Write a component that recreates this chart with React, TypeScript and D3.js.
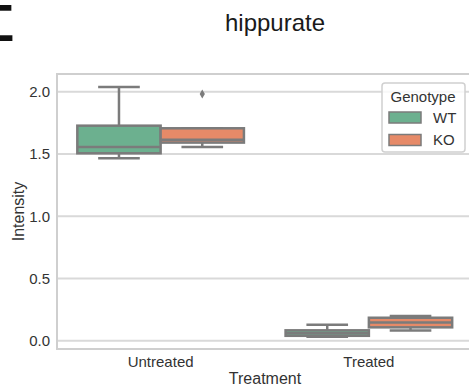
import React from 'react';
import * as d3 from 'd3';

const treatments = ['Untreated', 'Treated'];
const genotypes = ['WT', 'KO'];
// per treatment: [lower whisker, Q1, median, Q3, upper whisker]
const wtBoxes = [
  [1.466, 1.506, 1.557, 1.728, 2.039],
  [0.032, 0.04, 0.06, 0.084, 0.128],
];
const koBoxes = [
  [1.557, 1.592, 1.615, 1.707, 1.707],
  [0.082, 0.108, 0.147, 0.185, 0.2],
];
const wtOutliers: number[][] = [[], []];
const koOutliers: number[][] = [[1.982], []];
const yTicks = [0, 0.5, 1.0, 1.5, 2.0];
const palette = ['#6cb08f', '#e68a68'];

const W = 469;
const H = 390;
const font = 'Liberation Sans, Arial, sans-serif';
const lineGray = '#7b7b7b';

export default function App() {
  const x = d3.scaleBand().domain(treatments).range([56.5, 473]);
  const groupW = x.bandwidth() * 0.8;
  const hue = d3.scaleBand().domain(genotypes).range([0, groupW]);
  const y = d3.scaleLinear().domain([-0.066, 2.143]).range([349, 74]);
  const fmt = d3.format('.1f');
  const color = d3.scaleOrdinal<string, string>().domain(genotypes).range(palette);

  const left = 57;
  const top = y.range()[1];
  const bottom = y.range()[0];
  const right = x.range()[1];

  const series = [
    { g: 'WT', boxes: wtBoxes, outliers: wtOutliers },
    { g: 'KO', boxes: koBoxes, outliers: koOutliers },
  ];

  return (
    <svg width={W} height={H} style={{ position: 'absolute', left: 0, top: 0, background: '#fff' }} fontFamily={font}>
      <defs>
        <clipPath id="panelClip">
          <rect x={0} y={0} width={40} height={14} />
          <rect x={0} y={30} width={40} height={16} />
        </clipPath>
      </defs>
      {/* panel letter, cut by the figure crop */}
      <text x={14.5} y={41} textAnchor="end" fontSize={52} fontWeight="bold" fill="#111" clipPath="url(#panelClip)">E</text>

      <text x={275} y={30.5} textAnchor="middle" fontSize={24} fill="#1a1a1a">hippurate</text>

      {/* grid */}
      {yTicks.map(t => (
        <line key={t} x1={left} x2={right} y1={y(t)} y2={y(t)} stroke="#d9d9d9" strokeWidth={2} />
      ))}
      <rect x={left} y={top} width={right - left} height={bottom - top} fill="none" stroke="#cfcfcf" strokeWidth={2} />

      {/* boxes */}
      {series.map(s =>
        treatments.map((t, i) => {
          const [lo, q1, med, q3, hi] = s.boxes[i];
          const bx = (x(t) as number) + x.bandwidth() * 0.1 + (hue(s.g) as number);
          const bw = hue.bandwidth();
          const cx = bx + bw / 2;
          return (
            <g key={s.g + t} stroke={lineGray} strokeWidth={2.5}>
              <line x1={cx} x2={cx} y1={y(q3)} y2={y(hi)} />
              <line x1={cx} x2={cx} y1={y(q1)} y2={y(lo)} />
              <line x1={cx - bw / 4} x2={cx + bw / 4} y1={y(hi)} y2={y(hi)} />
              <line x1={cx - bw / 4} x2={cx + bw / 4} y1={y(lo)} y2={y(lo)} />
              <rect x={bx} y={y(q3)} width={bw} height={y(q1) - y(q3)} fill={color(s.g)} />
              <line x1={bx} x2={bx + bw} y1={y(med)} y2={y(med)} />
              {s.outliers[i].map((o, k) => (
                <path key={k} d={`M${cx},${y(o) - 4.5}L${cx + 2.6},${y(o)}L${cx},${y(o) + 4.5}L${cx - 2.6},${y(o)}Z`} fill={lineGray} stroke="none" />
              ))}
            </g>
          );
        })
      )}

      {/* y axis */}
      {yTicks.map(t => (
        <text key={t} x={50} y={y(t)} dy="0.35em" textAnchor="end" fontSize={15} fill="#333">{fmt(t)}</text>
      ))}
      <text transform={`translate(24,${(top + bottom) / 2}) rotate(-90)`} textAnchor="middle" fontSize={16} fill="#333">Intensity</text>

      {/* x axis */}
      {treatments.map(t => (
        <text key={t} x={(x(t) as number) + x.bandwidth() / 2} y={366.5} textAnchor="middle" fontSize={15} fill="#333">{t}</text>
      ))}
      <text x={(left + right) / 2} y={383.5} textAnchor="middle" fontSize={16} fill="#333">Treatment</text>

      {/* legend */}
      <g>
        <rect x={382} y={83} width={83} height={69} rx={3} fill="#fff" fillOpacity={0.8} stroke="#d0d0d0" strokeWidth={1.5} />
        <text x={423} y={102} textAnchor="middle" fontSize={15} fill="#333">Genotype</text>
        {genotypes.map((g, i) => (
          <g key={g} transform={`translate(389,${112 + i * 22.5})`}>
            <rect x={0} y={0} width={32} height={11} fill={color(g)} stroke={lineGray} strokeWidth={1.5} />
            <text x={44} y={10.8} fontSize={15} fill="#333">{g}</text>
          </g>
        ))}
      </g>
    </svg>
  );
}
